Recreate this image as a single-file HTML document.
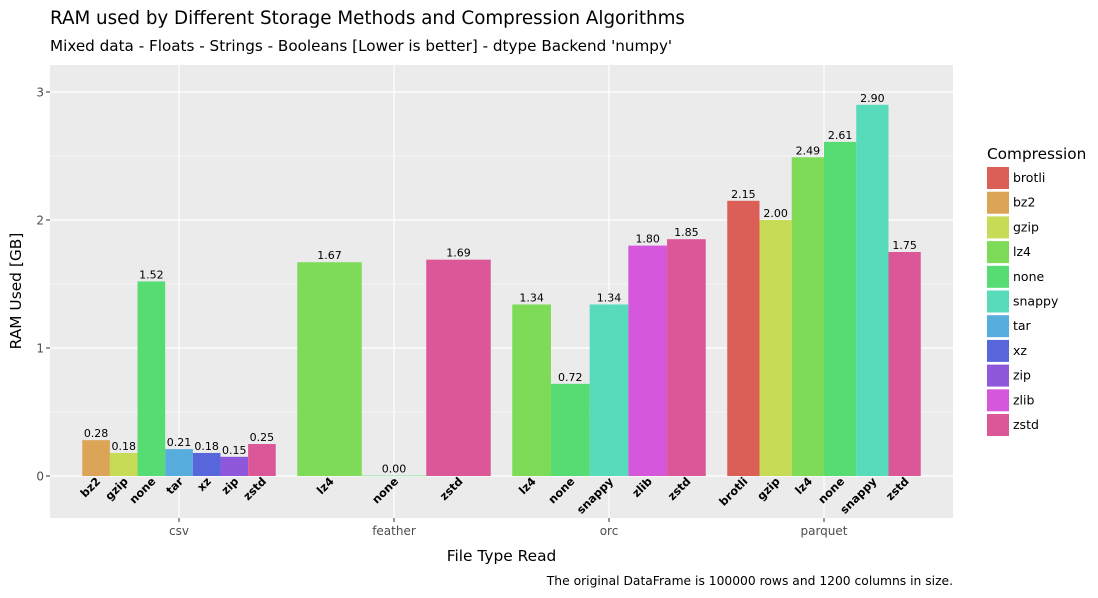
<!DOCTYPE html>
<html><head><meta charset="utf-8"><style>
body{margin:0;background:#fff;}
svg{display:block;font-family:"DejaVu Sans","Liberation Sans",sans-serif;}
</style></head><body>
<svg id="chart" width="1098" height="598" viewBox="0 0 1098 598">
<text x="50" y="24" font-size="18.3" fill="#000">RAM used by Different Storage Methods and Compression Algorithms</text>
<text x="50" y="51" font-size="15.2" fill="#000">Mixed data - Floats - Strings - Booleans [Lower is better] - dtype Backend 'numpy'</text>
<rect x="50" y="65" width="903" height="453" fill="#ebebeb"/>
<g id="grid"></g>
<g id="bars"></g>
<g id="axes"></g>
<text x="501.5" y="561" font-size="15.4" text-anchor="middle">File Type Read</text>
<text transform="translate(21,291) rotate(-90)" font-size="15.4" text-anchor="middle">RAM Used [GB]</text>
<text x="953" y="585" font-size="12.3" text-anchor="end">The original DataFrame is 100000 rows and 1200 columns in size.</text>
<text x="987" y="159" font-size="15.3">Compression</text>
<g id="legend"></g>
</svg>
<script>
const groups = ["csv","feather","orc","parquet"];
const csvMethods = ["bz2","gzip","none","tar","xz","zip","zstd"];
const csvValues = [0.28,0.18,1.52,0.21,0.18,0.15,0.25];
const featherMethods = ["lz4","none","zstd"];
const featherValues = [1.67,0.003,1.69];
const orcMethods = ["lz4","none","snappy","zlib","zstd"];
const orcValues = [1.34,0.72,1.34,1.80,1.85];
const parquetMethods = ["brotli","gzip","lz4","none","snappy","zstd"];
const parquetValues = [2.15,2.00,2.49,2.61,2.90,1.75];
const yTicks = [0,1,2,3];
const legendLevels = ["brotli","bz2","gzip","lz4","none","snappy","tar","xz","zip","zlib","zstd"];
const colors = {brotli:"#db5f57",bz2:"#dba457",gzip:"#c8db57",lz4:"#7edb57",none:"#57db73",snappy:"#57dbbb",tar:"#57addb",xz:"#5766db",zip:"#8f57db",zlib:"#d557db",zstd:"#db5797"};

const NS="http://www.w3.org/2000/svg";
function mk(tag,attrs,parent){const e=document.createElementNS(NS,tag);for(const k in attrs)e.setAttribute(k,attrs[k]);parent.appendChild(e);return e;}
const plotL=50,plotR=953,y0px=476,pxPerUnit=128;
const y=v=>y0px-v*pxPerUnit;
const step=215, firstCenter=179;
const xc=i=>firstCenter+i*step;
const grid=document.getElementById('grid'),bars=document.getElementById('bars'),axes=document.getElementById('axes'),legend=document.getElementById('legend');

for(let i=0;i<yTicks.length;i++){
  const gm=mk('line',{x1:plotL,x2:plotR,y1:y(yTicks[i]+0.5),y2:y(yTicks[i]+0.5),stroke:'#fff','stroke-width':0.6},grid);
  
  
}
yTicks.forEach(t=>{
  const g=mk('line',{x1:plotL,x2:plotR,y1:y(t),y2:y(t),stroke:'#fff','stroke-width':1.2},grid);
  
  
  const tk=mk('line',{x1:plotL-4,x2:plotL,y1:y(t),y2:y(t),stroke:'#333','stroke-width':1},axes);
  
  
  const tl=mk('text',{x:plotL-6,y:y(t)+4.5,'font-size':12,'text-anchor':'end',fill:'#4d4d4d'},axes);
  tl.textContent=t;
  
  
});
groups.forEach((g,i)=>{
  const gl=mk('line',{x1:xc(i),x2:xc(i),y1:65,y2:518,stroke:'#fff','stroke-width':1.2},grid);
  
  
  const tk=mk('line',{x1:xc(i),x2:xc(i),y1:518,y2:522,stroke:'#333'},axes);
  
  
  const tl=mk('text',{x:xc(i),y:535,'font-size':12,'text-anchor':'middle',fill:'#4d4d4d'},axes);
  tl.textContent=g;
  
  
});
const allMethods=[csvMethods,featherMethods,orcMethods,parquetMethods];
const allValues=[csvValues,featherValues,orcValues,parquetValues];
allMethods.forEach((ms,gi)=>{
  const vals=allValues[gi];
  const total=step*0.9, w=total/ms.length, left=xc(gi)-total/2;
  ms.forEach((m,j)=>{
    const v=vals[j], x=left+j*w, top=y(v);
    const r=mk('rect',{x:x,y:top,width:w,height:Math.max(y0px-top,0.5),fill:colors[m]},bars);
    
    
    const vl=mk('text',{x:x+w/2,y:top-3,'font-size':11,'text-anchor':'middle',fill:'#000'},bars);
    vl.textContent=v.toFixed(2);
    
    
    const cx=x+w/2+5, cy=482;
    const ml=mk('text',{x:cx,y:cy,'font-size':11.3,'font-weight':'bold','text-anchor':'end',transform:`rotate(-45 ${cx} ${cy})`,fill:'#000'},bars);
    ml.textContent=m;
    
    
  });
});
legendLevels.forEach((m,i)=>{
  const ky=167+i*24.7;
  const k=mk('rect',{x:987,y:ky,width:22,height:22,fill:colors[m]},legend);
  
  
  const t=mk('text',{x:1013,y:ky+15,'font-size':12.5,fill:'#000'},legend);
  t.textContent=m;
  
  
});
</script>
</body></html>
